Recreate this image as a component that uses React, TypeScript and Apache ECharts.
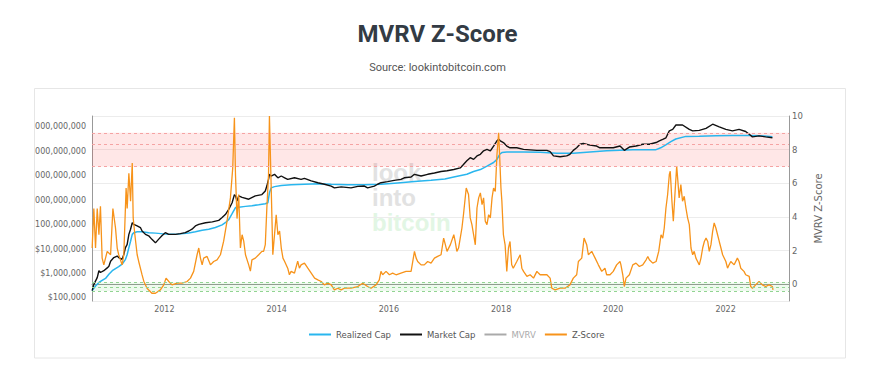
import React, { useEffect, useRef } from 'react';
import * as echarts from 'echarts';

const zDates = [
  '2010-09-18','2010-09-29','2010-10-10','2010-10-21','2010-11-01','2010-11-11','2010-11-22','2010-12-03','2010-12-25','2011-01-16',
  '2011-01-31','2011-02-17','2011-02-28','2011-03-10','2011-04-01','2011-04-12','2011-04-27','2011-05-04','2011-05-15','2011-05-26',
  '2011-06-06','2011-06-12','2011-06-23','2011-07-08','2011-07-18','2011-08-09','2011-08-20','2011-09-10','2011-10-12','2011-11-04',
  '2011-12-06','2011-12-28','2012-01-12','2012-01-30','2012-02-20','2012-03-24','2012-04-26','2012-05-28','2012-06-19','2012-07-10',
  '2012-08-01','2012-08-12','2012-08-23','2012-09-03','2012-09-13','2012-10-05','2012-10-27','2012-11-17','2012-12-09','2012-12-31',
  '2013-01-21','2013-02-12','2013-03-06','2013-03-21','2013-04-01','2013-04-08','2013-04-18','2013-04-29','2013-05-10','2013-05-21',
  '2013-06-01','2013-06-12','2013-07-03','2013-07-14','2013-07-24','2013-08-15','2013-09-06','2013-09-27','2013-10-08','2013-10-19',
  '2013-10-29','2013-11-09','2013-11-15','2013-11-26','2013-12-07','2013-12-29','2014-01-09','2014-01-20','2014-01-31','2014-02-11',
  '2014-02-22','2014-03-14','2014-03-25','2014-04-05','2014-04-27','2014-05-18','2014-05-29','2014-06-09','2014-07-01','2014-07-23',
  '2014-08-14','2014-09-05','2014-09-26','2014-10-18','2014-11-08','2014-11-30','2014-12-22','2015-01-12','2015-02-03','2015-02-25',
  '2015-03-17','2015-04-30','2015-06-13','2015-07-15','2015-08-16','2015-09-07','2015-10-10','2015-10-31','2015-11-11','2015-11-22',
  '2015-12-14','2016-01-05','2016-01-26','2016-02-17','2016-03-20','2016-04-22','2016-05-25','2016-06-16','2016-06-27','2016-07-07',
  '2016-07-29','2016-08-19','2016-09-10','2016-10-02','2016-10-24','2016-11-14','2016-12-06','2016-12-23','2017-01-03','2017-01-14',
  '2017-02-05','2017-02-27','2017-03-08','2017-03-19','2017-03-30','2017-04-10','2017-04-21','2017-05-01','2017-05-19','2017-06-03',
  '2017-06-14','2017-06-25','2017-07-06','2017-07-17','2017-07-28','2017-08-08','2017-08-19','2017-08-30','2017-09-09','2017-09-20',
  '2017-10-01','2017-10-12','2017-10-23','2017-11-03','2017-11-13','2017-11-24','2017-12-05','2017-12-16','2017-12-23','2017-12-31',
  '2018-01-06','2018-01-16','2018-01-27','2018-02-07','2018-02-18','2018-02-28','2018-03-11','2018-03-21','2018-04-13','2018-05-05',
  '2018-05-16','2018-05-27','2018-06-18','2018-07-09','2018-07-31','2018-08-22','2018-09-01','2018-09-12','2018-10-26','2018-11-16',
  '2018-11-27','2018-12-19','2019-01-20','2019-02-21','2019-03-25','2019-04-16','2019-05-08','2019-05-19','2019-06-10','2019-06-25',
  '2019-07-12','2019-07-23','2019-08-14','2019-09-05','2019-09-26','2019-10-18','2019-11-08','2019-11-19','2019-12-11','2020-01-01',
  '2020-01-23','2020-02-14','2020-02-20','2020-03-03','2020-03-13','2020-03-24','2020-04-15','2020-05-07','2020-05-28','2020-06-19',
  '2020-07-11','2020-08-02','2020-08-13','2020-08-23','2020-09-14','2020-10-06','2020-10-23','2020-11-07','2020-11-18','2020-11-28',
  '2020-12-09','2020-12-20','2020-12-31','2021-01-06','2021-01-17','2021-01-26','2021-02-08','2021-02-17','2021-02-23','2021-03-05',
  '2021-03-16','2021-03-27','2021-04-07','2021-04-18','2021-04-29','2021-05-10','2021-05-21','2021-06-01','2021-06-11','2021-06-22',
  '2021-07-03','2021-07-14','2021-07-25','2021-08-05','2021-08-16','2021-08-27','2021-09-07','2021-09-17','2021-09-28','2021-10-09',
  '2021-10-19','2021-10-30','2021-11-10','2021-11-21','2021-12-02','2021-12-13','2022-01-03','2022-01-14','2022-01-24','2022-02-04',
  '2022-02-26','2022-03-19','2022-03-30','2022-04-10','2022-05-01','2022-05-12','2022-06-04','2022-06-14','2022-06-25','2022-07-16',
  '2022-08-07','2022-08-29','2022-09-19','2022-10-11','2022-11-02','2022-11-06'
];
const zScore = [
  2.15,4.5,2.15,4.5,2.94,4.63,1.55,1.15,1.95,1.75,
  4.5,3.34,2.15,1.75,1.15,1.75,5.72,4.5,6.6,4.93,
  7.2,3.94,2.94,1.75,1.35,0.55,0.18,-0.24,-0.54,-0.54,
  -0.34,-0.04,0.36,0.16,-0.04,0.06,0.06,0.16,0.36,0.76,
  1.75,2.15,1.55,1.15,1.55,1.65,1.15,1.35,1.45,1.75,
  2.56,3.75,5.13,6.9,9.9,6.52,3.9,5.33,2.15,2.94,
  2.54,1.75,1.15,0.78,1.45,1.55,1.75,1.95,1.95,2.35,
  4.5,6.5,10.0,5.92,1.75,4.13,2.94,3.16,2.15,1.55,
  1.35,0.95,0.56,0.76,0.66,1.37,0.95,1.15,1.25,0.95,
  0.66,0.36,0.26,0.16,-0.04,0.06,-0.04,-0.34,-0.24,-0.34,
  -0.24,-0.24,-0.14,0.06,-0.14,-0.24,-0.04,0.26,0.76,0.56,
  0.76,0.56,0.66,0.56,0.66,0.76,0.76,1.95,1.55,1.35,
  1.15,1.15,1.35,1.25,1.55,1.65,1.75,2.74,2.35,1.95,
  2.35,2.94,2.54,1.95,2.15,2.74,3.34,4.13,5.72,5.33,
  3.94,3.54,2.94,2.34,4.53,5.13,5.43,4.73,5.13,3.74,
  3.54,4.13,3.94,5.13,5.72,5.52,7.71,9.0,7.51,5.72,
  4.93,2.94,2.34,0.76,2.15,2.54,1.15,0.95,1.35,1.75,
  0.95,0.76,0.46,0.56,0.36,0.76,0.66,0.56,0.56,0.36,
  -0.24,-0.34,-0.24,-0.24,-0.04,0.36,0.56,1.35,1.55,2.74,
  2.35,1.75,1.95,1.55,1.15,0.76,0.95,0.56,0.56,0.76,
  1.15,1.35,1.15,0.56,-0.14,0.36,0.56,1.15,1.25,1.05,
  1.15,1.45,1.65,1.45,1.25,1.35,1.95,2.94,2.74,3.34,
  4.53,5.33,6.52,6.72,4.93,3.74,5.72,7.02,6.32,5.13,
  5.92,4.93,5.23,4.53,3.94,3.54,2.15,1.75,1.95,1.55,
  1.35,1.15,1.55,2.15,2.54,2.74,2.54,1.95,2.35,3.14,
  3.64,3.34,2.94,2.54,2.15,1.75,1.35,0.95,1.15,1.35,
  1.15,1.55,1.35,0.95,0.76,0.56,0.46,-0.14,-0.24,-0.04,
  0.16,-0.04,-0.14,-0.04,-0.14,-0.34
];

const mcDates = [
  '2010-09-18','2010-09-29','2010-10-21','2010-11-01','2010-11-11','2010-12-03','2010-12-25','2011-01-05','2011-01-16','2011-02-06',
  '2011-02-28','2011-03-10','2011-04-01','2011-04-12','2011-04-23','2011-05-04','2011-05-15','2011-05-26','2011-06-06','2011-06-16',
  '2011-07-08','2011-07-29','2011-08-09','2011-08-31','2011-09-21','2011-10-12','2011-11-04','2011-11-24','2011-12-16','2012-01-07',
  '2012-01-30','2012-03-13','2012-04-14','2012-05-16','2012-06-08','2012-06-29','2012-07-21','2012-08-12','2012-09-25','2012-11-08',
  '2012-12-20','2013-01-11','2013-02-01','2013-02-24','2013-03-17','2013-04-01','2013-04-08','2013-04-18','2013-04-29','2013-05-21',
  '2013-07-03','2013-08-15','2013-09-27','2013-10-19','2013-10-29','2013-11-09','2013-11-15','2013-11-26','2013-12-18','2014-01-09',
  '2014-01-31','2014-02-22','2014-03-14','2014-04-27','2014-06-09','2014-07-01','2014-08-14','2014-09-26','2014-11-08','2014-12-22',
  '2015-01-12','2015-02-25','2015-04-30','2015-06-13','2015-07-26','2015-08-16','2015-09-29','2015-10-20','2015-11-11','2015-12-24',
  '2016-02-05','2016-03-20','2016-04-11','2016-05-25','2016-06-16','2016-07-29','2016-09-10','2016-10-24','2016-12-06','2017-01-14',
  '2017-02-27','2017-04-10','2017-05-01','2017-05-23','2017-06-14','2017-07-06','2017-07-28','2017-08-19','2017-09-09','2017-10-01',
  '2017-10-23','2017-11-13','2017-12-05','2017-12-16','2017-12-27','2018-01-16','2018-02-07','2018-02-28','2018-04-13','2018-05-27',
  '2018-07-09','2018-08-22','2018-10-26','2018-11-16','2018-12-08','2019-01-20','2019-03-04','2019-03-25','2019-04-16','2019-05-08',
  '2019-05-29','2019-06-20','2019-08-02','2019-09-15','2019-10-06','2019-11-19','2020-01-01','2020-02-14','2020-03-13','2020-04-15',
  '2020-05-28','2020-07-11','2020-08-23','2020-10-06','2020-10-27','2020-11-18','2020-12-09','2020-12-31','2021-01-22','2021-02-12',
  '2021-03-27','2021-05-10','2021-06-01','2021-07-14','2021-08-27','2021-10-09','2021-11-21','2022-01-03','2022-02-15','2022-03-30',
  '2022-05-12','2022-06-04','2022-06-25','2022-08-07','2022-09-19','2022-11-02'
];
const marketCap = [
  2.0e5,3.6e5,6.8e5,1.3e6,1.1e6,1.3e6,1.7e6,2.0e6,3.2e6,4.5e6,
  5.2e6,4.5e6,3.8e6,6.0e6,1.15e7,1.55e7,4.0e7,6.5e7,1.2e8,1.02e8,
  8.9e7,7.6e7,5.5e7,4.0e7,3.5e7,2.5e7,1.8e7,2.5e7,3.5e7,4.7e7,
  4.0e7,4.0e7,4.3e7,4.7e7,5.5e7,6.5e7,8.9e7,1.02e8,1.2e8,1.3e8,
  1.5e8,1.95e8,2.6e8,4.3e8,7.9e8,1.7e9,1.5e9,9.3e8,1.5e9,1.3e9,
  1.1e9,1.5e9,1.7e9,2.4e9,3.8e9,7.1e9,1.15e10,9.8e9,1.15e10,8.3e9,
  9.8e9,8.3e9,7.1e9,8.3e9,7.1e9,7.9e9,6.2e9,5.2e9,4.5e9,3.8e9,
  3.2e9,3.5e9,3.2e9,3.7e9,3.8e9,3.2e9,3.8e9,4.5e9,5.2e9,5.8e9,
  6.5e9,7.1e9,8.3e9,8.9e9,1.15e10,9.8e9,1.15e10,1.3e10,1.5e10,1.6e10,
  1.8e10,2.1e10,2.9e10,4.1e10,5.5e10,4.7e10,6.5e10,7.6e10,1.05e11,1.2e11,
  1.05e11,1.65e11,2.7e11,3.1e11,2.7e11,2.3e11,1.65e11,1.4e11,1.4e11,1.2e11,
  1.15e11,1.1e11,1.1e11,9.8e10,6.5e10,6.0e10,6.5e10,7.6e10,1.1e11,1.4e11,
  1.95e11,2.1e11,1.8e11,1.65e11,1.4e11,1.4e11,1.4e11,1.65e11,1.1e11,1.5e11,
  1.65e11,1.95e11,1.95e11,2.3e11,2.7e11,3.1e11,3.6e11,6.9e11,7.9e11,1.2e12,
  1.2e12,7.9e11,6.9e11,7.2e11,8.7e11,1.29e12,1.0e12,7.9e11,6.9e11,7.9e11,
  6.5e11,5.0e11,3.9e11,4.3e11,3.9e11,3.6e11
];

const rcDates = [
  '2010-09-18','2010-10-10','2010-11-01','2010-11-22','2010-12-14','2011-01-05','2011-01-27','2011-02-17','2011-03-10','2011-04-01',
  '2011-04-23','2011-05-04','2011-05-15','2011-05-26','2011-06-06','2011-06-16','2011-07-08','2011-08-09','2011-09-21','2011-11-04',
  '2012-01-30','2012-03-13','2012-06-08','2012-07-21','2012-09-03','2012-10-16','2012-11-28','2013-01-11','2013-02-01','2013-02-24',
  '2013-03-17','2013-04-08','2013-04-29','2013-06-12','2013-07-24','2013-09-06','2013-10-19','2013-11-05','2013-11-15','2013-11-26',
  '2013-12-18','2014-01-31','2014-04-05','2014-07-01','2014-09-26','2014-12-22','2015-04-08','2015-07-26','2015-11-11','2016-02-27',
  '2016-06-16','2016-10-02','2016-12-31','2017-02-27','2017-05-23','2017-07-06','2017-08-19','2017-10-01','2017-11-13','2017-12-05',
  '2017-12-23','2018-01-06','2018-02-07','2018-05-27','2018-09-12','2018-12-30','2019-04-16','2019-08-02','2019-11-19','2020-02-14',
  '2020-05-07','2020-08-23','2020-10-02','2020-11-05','2020-12-08','2021-01-10','2021-02-11','2021-04-18','2021-07-14','2021-10-30',
  '2022-02-15','2022-06-04','2022-08-07','2022-11-02'
];
const realizedCap = [
  2.0e5,3.1e5,4.3e5,5.2e5,6.3e5,9.3e5,1.3e6,1.6e6,1.9e6,2.4e6,
  3.8e6,6.0e6,1.15e7,2.1e7,4.0e7,4.7e7,5.1e7,5.1e7,4.7e7,4.5e7,
  4.0e7,4.0e7,4.6e7,5.1e7,5.9e7,6.5e7,7.6e7,9.8e7,1.2e8,1.65e8,
  2.8e8,5.0e8,5.2e8,5.6e8,6.0e8,6.5e8,7.2e8,7.9e8,2.0e9,3.2e9,
  3.6e9,4.0e9,4.3e9,4.5e9,4.7e9,4.5e9,4.3e9,4.3e9,4.5e9,5.1e9,
  5.8e9,6.5e9,7.4e9,8.9e9,1.15e10,1.5e10,1.8e10,2.5e10,3.5e10,4.7e10,
  7.6e10,8.9e10,9.5e10,9.5e10,9.1e10,8.3e10,8.3e10,9.5e10,1.05e11,1.1e11,
  1.15e11,1.15e11,1.15e11,1.4e11,1.86e11,2.5e11,3.2e11,4.1e11,4.2e11,4.4e11,
  4.5e11,4.5e11,4.4e11,4.0e11
];

const legendNames = ['Realized Cap', 'Market Cap', 'MVRV', 'Z-Score'];
const redBand = [7, 9];
const redLines = [9, 8.3, 7];
const greenBand = [-0.4, 0.1];
const greenLines = [0.1, -0.2, -0.4];
const watermark = ['look', 'into', 'bitcoin'];

const pair = (dates: string[], vals: number[]) => dates.map((d, i) => [d, vals[i]]);

export default function App() {
  const ref = useRef<HTMLDivElement>(null);
  useEffect(() => {
    const chart = echarts.init(ref.current!, null, { renderer: 'svg' });
    const axisFont = 'DejaVu Sans';
    chart.setOption({
      animation: false,
      backgroundColor: '#fff',
      textStyle: { fontFamily: axisFont },
      title: [
        {
          text: 'MVRV Z-Score', left: 'center', top: 17,
          textStyle: { fontFamily: 'Roboto', fontWeight: 'bold', fontSize: 24, color: '#333b44' },
        },
        {
          text: 'Source: lookintobitcoin.com', left: 'center', top: 57,
          textStyle: { fontFamily: 'Roboto', fontWeight: 'normal', fontSize: 11, color: '#555' },
        },
      ],
      legend: {
        left: 304, top: 325, icon: 'rect', itemWidth: 22, itemHeight: 2, itemGap: 9,
        data: legendNames, selected: { MVRV: false }, inactiveColor: '#aaaaaa',
        textStyle: { fontFamily: axisFont, fontSize: 8.5, color: '#555' },
      },
      grid: { left: 92, right: 86, top: 116, bottom: 78 },
      xAxis: {
        type: 'time', min: '2010-09-17', max: '2023-02-18',
        axisLine: { lineStyle: { color: '#999' } },
        axisTick: { show: false }, splitLine: { show: false },
        axisLabel: {
          color: '#666', fontSize: 8, margin: 4, fontFamily: axisFont,
          formatter: (v: number) => {
            const d = new Date(v);
            return d.getMonth() === 0 && d.getDate() === 1 && d.getFullYear() % 2 === 0 ? String(d.getFullYear()) : '';
          },
        },
      },
      yAxis: [
        {
          type: 'log', logBase: 10, min: 75000, max: 2.8e12, position: 'left',
          axisLine: { show: true, lineStyle: { color: '#999' } },
          axisTick: { show: false }, splitLine: { show: false },
          axisLabel: {
            color: '#666', fontSize: 8, margin: 6, fontFamily: axisFont,
            formatter: (v: number) => {
              const l = Math.log10(v);
              if (Math.abs(l - Math.round(l)) > 1e-6) return '';
              return '$' + Math.round(v).toLocaleString('en-US');
            },
          },
        },
        {
          type: 'value', min: -1, max: 10, splitNumber: 5, position: 'right',
          name: 'MVRV Z-Score', nameLocation: 'middle', nameGap: 24, nameRotate: 90,
          nameTextStyle: { color: '#666', fontSize: 10, fontFamily: axisFont },
          axisLine: { show: true, lineStyle: { color: '#999' } },
          axisTick: { show: false },
          splitLine: { show: true, lineStyle: { color: '#ececec' } },
          axisLabel: { color: '#666', fontSize: 8.5, margin: 3, showMinLabel: false, fontFamily: axisFont },
        },
      ],
      series: [
        {
          name: 'bands', type: 'line', yAxisIndex: 1, data: [], z: 1, silent: true,
          markArea: {
            silent: true,
            data: [
              [{ yAxis: redBand[0], itemStyle: { color: 'rgba(255,40,40,0.11)' } }, { yAxis: redBand[1] }],
              [{ yAxis: greenBand[0], itemStyle: { color: 'rgba(40,190,40,0.08)' } }, { yAxis: greenBand[1] }],
            ],
          },
          markLine: {
            silent: true, symbol: 'none', label: { show: false },
            data: [
              ...redLines.map((v) => ({ yAxis: v, lineStyle: { color: '#f5a3a3', type: [3, 3], width: 1 } })),
              ...greenLines.map((v) => ({ yAxis: v, lineStyle: { color: '#92d492', type: [3, 3], width: 1 } })),
            ],
          },
        },
        {
          name: 'Realized Cap', type: 'line', yAxisIndex: 0, showSymbol: false, symbol: 'none',
          data: pair(rcDates, realizedCap), color: '#29b6ee', lineStyle: { width: 1.5, color: '#29b6ee' }, z: 2,
        },
        {
          name: 'Market Cap', type: 'line', yAxisIndex: 0, showSymbol: false, symbol: 'none',
          data: pair(mcDates, marketCap), color: '#111', lineStyle: { width: 1.4, color: '#111' }, z: 3,
        },
        {
          name: 'MVRV', type: 'line', yAxisIndex: 1, showSymbol: false, symbol: 'none',
          data: [], color: '#999', lineStyle: { width: 1.5, color: '#999' },
        },
        {
          name: 'Z-Score', type: 'line', yAxisIndex: 1, showSymbol: false, symbol: 'none',
          data: pair(zDates, zScore), color: '#f7931a', lineStyle: { width: 1.3, color: '#f7931a' }, z: 4,
        },
      ],
      graphic: {
        elements: [
          ...watermark.map((t, i) => ({
            type: 'text', x: 372, y: 160 + i * 25, z: 0, silent: true,
            style: {
              text: t, font: 'bold 24px "Liberation Sans"',
              fill: i === 2 ? '#e2f6e4' : '#e2e2e2', verticalAlign: 'top',
            },
          })),
          { type: 'rect', z: 100, silent: true, shape: { x: 0, y: 89, width: 34, height: 269 }, style: { fill: '#fff' } },
          { type: 'rect', z: 101, silent: true, shape: { x: 34.5, y: 88.5, width: 811, height: 269.5 }, style: { fill: 'none', stroke: '#e6e6e6', lineWidth: 1 } },
        ],
      },
    });
    return () => chart.dispose();
  }, []);
  return <div ref={ref} style={{ position: 'absolute', left: 0, top: 0, width: 875, height: 379 }} />;
}
